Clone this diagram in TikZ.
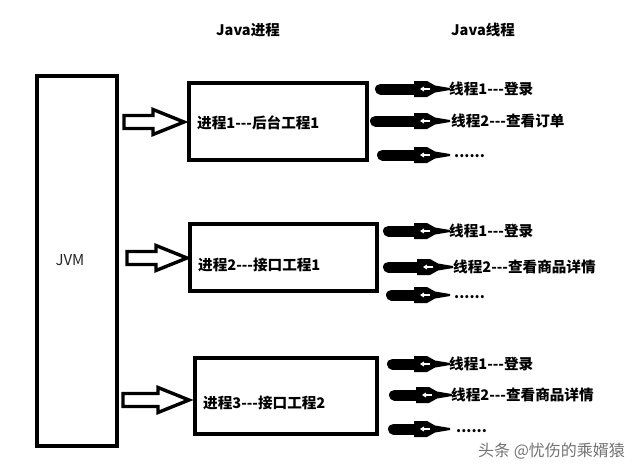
\documentclass[tikz,border=0pt]{standalone}
\usepackage{fontspec}
\setmainfont{Noto Sans CJK SC}
\begin{document}
\begin{tikzpicture}[x=1pt,y=-1pt,
  bigbox/.style={draw=black,line width=4pt,fill=white,inner sep=0pt},
  lbl/.style={font=\fontsize{14.6}{16}\selectfont\bfseries,anchor=west,inner sep=0pt},
  hdr/.style={font=\fontsize{14.5}{16}\selectfont\bfseries,inner sep=0pt},
  hollow/.style={draw=black,line width=3.4pt,line join=miter,fill=white},
  ]
\useasboundingbox[fill=white] (0,0) rectangle (640,471);
\newcommand\hollowarr[3]{%
  \draw[hollow] (#1,#3-6.5) -- (#2-31,#3-6.5) -- (#2-31,#3-12.5) -- (#2,#3)
    -- (#2-31,#3+12.5) -- (#2-31,#3+6.5) -- (#1,#3+6.5) -- cycle;}
\newcommand\threadarr[3]{%
  \draw[line width=11pt,line cap=round] (#1+5.5,#3) -- (#2-31,#3);
  \fill (#2-36,#3-8) -- (#2-23,#3-8) -- (#2-15,#3-3.5) -- (#2,#3-1)
    -- (#2,#3+1) -- (#2-15,#3+3.5) -- (#2-23,#3+8) -- (#2-36,#3+8) -- cycle;
  \draw[white,line width=1.3pt] (#2-29,#3) -- (#2-20,#3);
  \draw[white,line width=1pt] (#2-26,#3-2) -- (#2-29,#3) -- (#2-26,#3+2);}

% headers
\node[hdr] (h1) at (248,30) {Java进程};
\node[hdr] (h2) at (483,30) {Java线程};

% JVM
\node[bigbox,minimum width=80pt,minimum height=370pt] (jvm) at (77,261) {};
\node[font=\fontsize{15}{17}\selectfont,text=black!85] (jvmt) at (70,260) {JVM};

% process boxes
\node[bigbox,minimum width=178pt,minimum height=77pt] (p1) at (277.5,121) {};
\node[bigbox,minimum width=187pt,minimum height=67pt] (p2) at (283.5,257) {};
\node[bigbox,minimum width=182pt,minimum height=76pt] (p3) at (285.5,396) {};
\node[lbl] (p1t) at (197,123) {进程1-{}-{}-后台工程1};
\node[lbl] (p2t) at (198,265) {进程2-{}-{}-接口工程1};
\node[lbl] (p3t) at (203,403) {进程3-{}-{}-接口工程2};

% hollow arrows JVM -> processes
\hollowarr{124}{184}{122}
\hollowarr{127}{187}{258}
\hollowarr{123}{189}{400}

% thread arrows
\threadarr{375}{450}{89}
\threadarr{370}{450}{121}
\threadarr{377}{450}{155}
\threadarr{383}{450}{231}
\threadarr{383}{453}{267}
\threadarr{386}{450}{295}
\threadarr{387}{450}{364}
\threadarr{389}{452}{395}
\threadarr{388}{450}{429}

% thread labels
\node[lbl] (t11) at (449,89) {线程1-{}-{}-登录};
\node[lbl] (t12) at (451,121) {线程2-{}-{}-查看订单};
\node[lbl] (t13) at (454,156) {......};
\node[lbl] (t21) at (449,231) {线程1-{}-{}-登录};
\node[lbl] (t22) at (453,267) {线程2-{}-{}-查看商品详情};
\node[lbl] (t23) at (454,297) {......};
\node[lbl] (t31) at (449,364) {线程1-{}-{}-登录};
\node[lbl] (t32) at (451,395) {线程2-{}-{}-查看商品详情};
\node[lbl] (t33) at (456,431) {......};

% watermark
\node[anchor=west,inner sep=0pt,font=\fontsize{16}{18}\selectfont,text=black!55] (wm) at (478,451) {头条 @忧伤的乘婿猿};
\end{tikzpicture}
\end{document}
